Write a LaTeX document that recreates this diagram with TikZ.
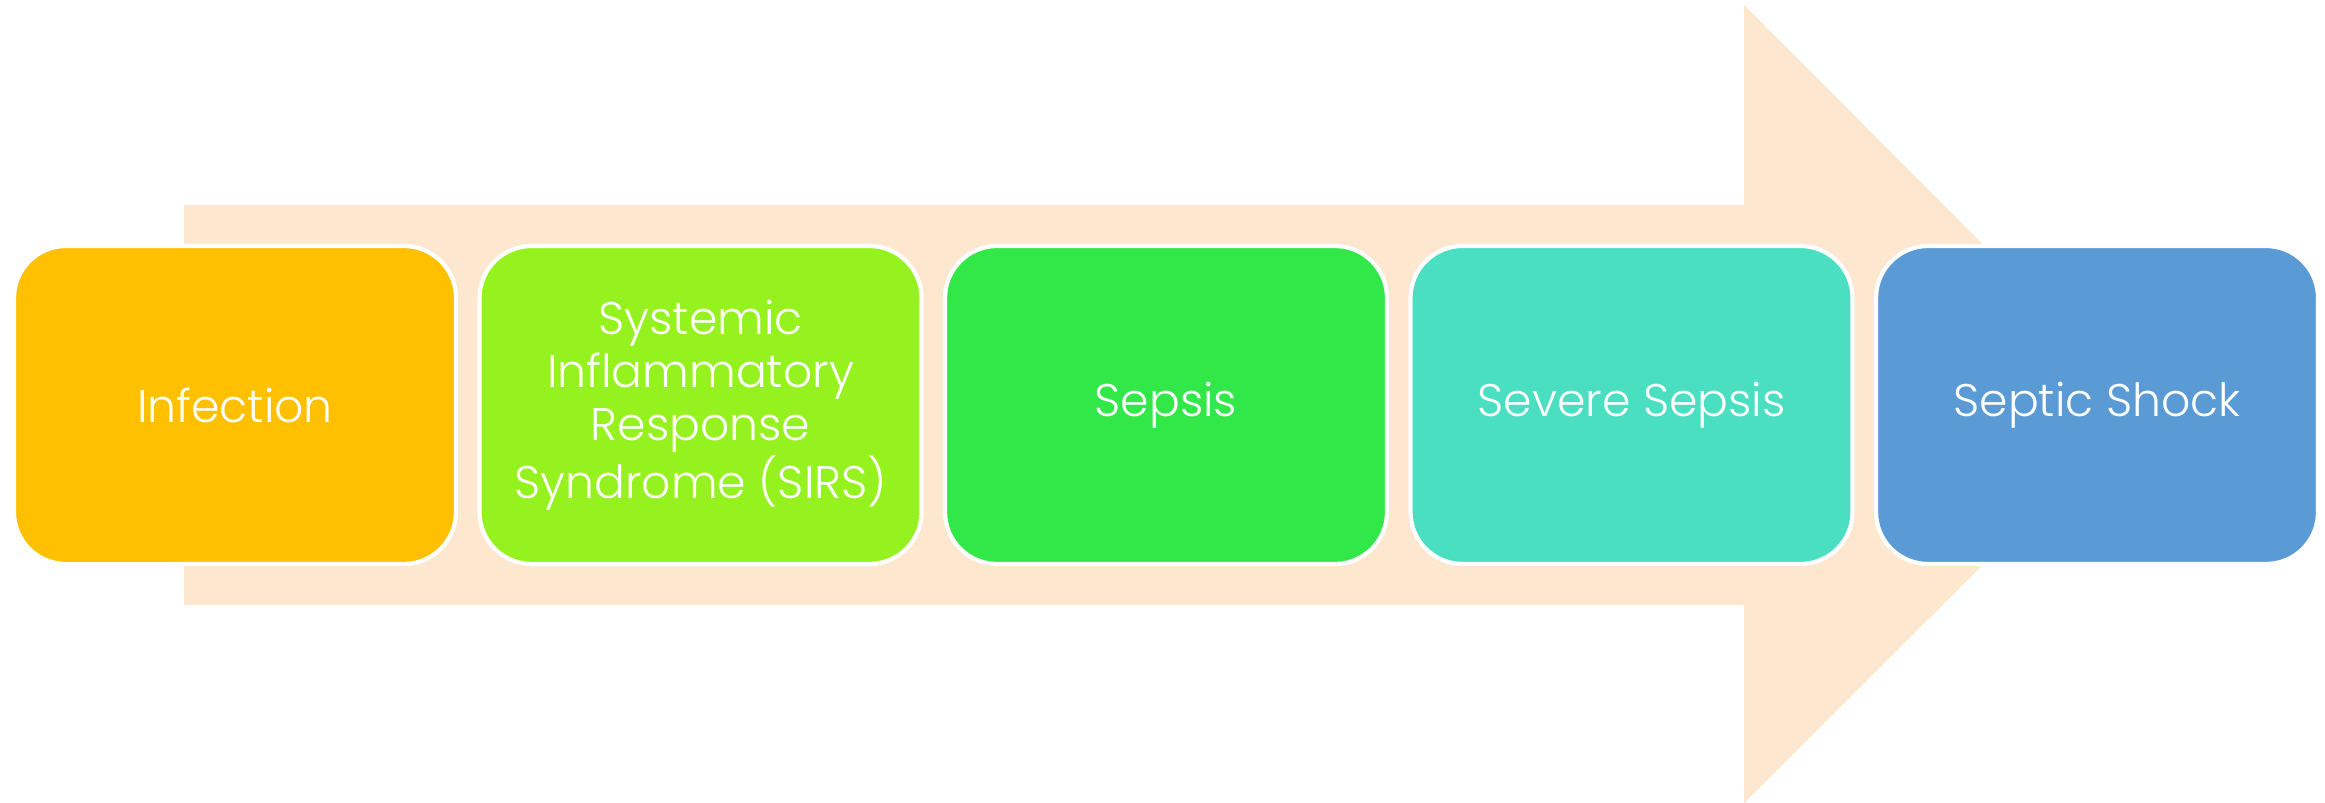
\documentclass[tikz,border=0pt]{standalone}
\usepackage{fontspec}
\setmainfont{Poppins Light}
\usetikzlibrary{positioning}

\definecolor{arrowbg}{RGB}{253,231,206}
\definecolor{infectcol}{RGB}{255,192,0}
\definecolor{sirscol}{RGB}{150,242,30}
\definecolor{sepsiscol}{RGB}{50,232,72}
\definecolor{severecol}{RGB}{74,223,192}
\definecolor{shockcol}{RGB}{91,155,213}

\tikzset{
  stage/.style={rectangle, rounded corners=0.52cm, draw=white, line width=1.2pt,
    minimum width=4.42cm, minimum height=3.18cm, text=white, align=center,
    font=\fontsize{13}{15}\selectfont, inner sep=0pt, outer sep=0pt}
}

\begin{document}
\begin{tikzpicture}
  \useasboundingbox (0,0) rectangle (23.25,8.03);

  % Background arrow
  \fill[arrowbg] (1.84,1.98) -- (1.84,5.98) -- (17.44,5.98) -- (17.44,7.98)
    -- (21.43,3.98) -- (17.44,0.0) -- (17.44,1.98) -- cycle;

  % Stages
  \node[stage, fill=infectcol] (infection) at (2.35,3.98) {Infection};
  \node[stage, fill=sirscol, right=0.235cm of infection] (sirs)
    {Systemic\\Inflammatory\\Response\\Syndrome (SIRS)};
  \node[stage, fill=sepsiscol, right=0.235cm of sirs] (sepsis) {Sepsis};
  \node[stage, fill=severecol, right=0.235cm of sepsis] (severe) {Severe Sepsis};
  \node[stage, fill=shockcol, right=0.235cm of severe] (shock) {Septic Shock};
\end{tikzpicture}
\end{document}
